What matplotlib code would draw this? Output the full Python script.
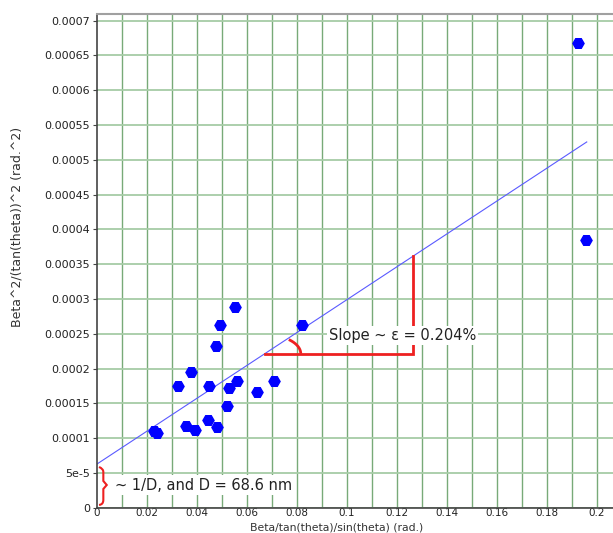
import numpy as np
import matplotlib
matplotlib.use('Agg')
import matplotlib.pyplot as plt
from matplotlib.path import Path
from matplotlib.patches import PathPatch
from matplotlib.ticker import FixedLocator, FixedFormatter

# data
x_vals = [0.0228, 0.0240, 0.0325, 0.0379, 0.0359, 0.0392, 0.0445, 0.0448,
          0.0481, 0.0479, 0.0495, 0.0552, 0.0521, 0.0528, 0.0563, 0.0641,
          0.0708, 0.0821, 0.1927, 0.1959]
y_vals = [0.0001095, 0.0001080, 0.0001747, 0.0001944, 0.0001171, 0.0001119,
          0.0001263, 0.0001747, 0.0001157, 0.0002323, 0.0002620, 0.0002885,
          0.0001459, 0.0001724, 0.0001819, 0.0001656, 0.0001815, 0.0002620,
          0.0006680, 0.0003846]

fit_intercept = 6.25e-5
fit_slope = 0.002363
fit_x = [0.0, 0.196]

# slope triangle (on the fit line)
tri_x0 = 0.0672
tri_x1 = 0.1265

x_ticks = [0, 0.02, 0.04, 0.06, 0.08, 0.1, 0.12, 0.14, 0.16, 0.18, 0.2]
x_tick_labels = ['0', '0.02', '0.04', '0.06', '0.08', '0.1', '0.12', '0.14',
                 '0.16', '0.18', '0.2']
y_ticks = [0, 5e-5, 1e-4, 1.5e-4, 2e-4, 2.5e-4, 3e-4, 3.5e-4, 4e-4, 4.5e-4,
           5e-4, 5.5e-4, 6e-4, 6.5e-4, 7e-4]
y_tick_labels = ['0', '5e-5', '0.0001', '0.00015', '0.0002', '0.00025',
                 '0.0003', '0.00035', '0.0004', '0.00045', '0.0005',
                 '0.00055', '0.0006', '0.00065', '0.0007']

slope_text = 'Slope ~ \u03b5 = 0.204%'
intercept_text = '~ 1/D, and D = 68.6 nm'

RED = '#ee2020'
XMAX = 0.2065
YMAX = 0.0007096

fig = plt.figure(figsize=(6.13, 5.33), dpi=100)
ax = fig.add_axes([0.1578, 0.0475, 0.8422, 0.9263])

ax.set_xlim(0, XMAX)
ax.set_ylim(0, YMAX)

# grid
for gx in np.arange(0.01, 0.2001, 0.01):
    ax.axvline(gx, color='#78aa78', lw=1.0, zorder=0)
for gy in y_ticks:
    ax.axhline(gy, color='#a6cca6', lw=1.3, zorder=0)

# fit line
fy = [fit_intercept + fit_slope * v for v in fit_x]
ax.plot(fit_x, fy, color='#5a5aff', lw=0.8, zorder=2)

# points
ax.plot(x_vals, y_vals, linestyle='none', marker='H', markersize=8,
        color='#0000ff', markeredgecolor='#0000ff', zorder=3)

# slope triangle
ty0 = fit_intercept + fit_slope * tri_x0
ty1 = fit_intercept + fit_slope * tri_x1
ax.plot([tri_x0, tri_x1, tri_x1], [ty0, ty0, ty1], color=RED, lw=2.0,
        solid_joinstyle='miter', zorder=4)

# angle arc (pixel sizes converted to data units)
px_x = 2500.0
px_y = 695714.0
t = np.linspace(0, np.deg2rad(48), 30)
ax.plot(tri_x0 + 36 / px_x * np.cos(t), ty0 + 19 / px_y * np.sin(t),
        color=RED, lw=2.0, zorder=4, solid_capstyle='butt')

ax.text(0.0928, 0.0002477, slope_text, fontsize=10.5, color='#222222',
        va='center', ha='left', zorder=5,
        bbox=dict(facecolor='white', edgecolor='none', pad=1.5))

# curly brace for the intercept
bx = [0.00092, 0.00264, 0.00264, 0.00264, 0.0040,
      0.00264, 0.00264, 0.00264, 0.00092]
by = [5.85e-5, 5.6e-5, 5.13e-5, 3.84e-5, 3.26e-5,
      2.69e-5, 1.11e-5, 4.5e-6, 3.9e-6]
codes = [Path.MOVETO, Path.CURVE3, Path.CURVE3, Path.LINETO, Path.LINETO,
         Path.LINETO, Path.LINETO, Path.CURVE3, Path.CURVE3]
brace = PathPatch(Path(np.column_stack([bx, by]), codes), facecolor='none',
                  edgecolor=RED, lw=1.5, zorder=5, clip_on=False)
ax.add_patch(brace)

ax.text(0.0073, 3.26e-5, intercept_text, fontsize=10.5, color='#222222',
        va='center', ha='left', zorder=5,
        bbox=dict(facecolor='white', edgecolor='none', pad=1.5))

# axes
ax.xaxis.set_major_locator(FixedLocator(x_ticks))
ax.xaxis.set_major_formatter(FixedFormatter(x_tick_labels))
ax.yaxis.set_major_locator(FixedLocator(y_ticks))
ax.yaxis.set_major_formatter(FixedFormatter(y_tick_labels))
ax.tick_params(axis='y', labelsize=8, labelcolor='#222222',
               color='#444444', length=3, width=0.8, pad=2)
ax.tick_params(axis='x', labelsize=7.5, labelcolor='#222222',
               color='#444444', length=0, pad=0.5)

for s in ['left', 'bottom']:
    ax.spines[s].set_color('#444444')
    ax.spines[s].set_linewidth(1.2)
ax.spines['top'].set_color('#a0a0a0')
ax.spines['top'].set_linewidth(1.5)
ax.spines['right'].set_visible(False)

ax.set_xlabel('Beta/tan(theta)/sin(theta) (rad.)', fontsize=7.8,
              color='#333333', va='bottom')
ax.set_ylabel('Beta^2/(tan(theta))^2 (rad.^2)', fontsize=9,
              color='#333333')
ax.xaxis.set_label_coords(0.465, -0.0506)
ax.yaxis.set_label_coords(-0.141, 0.569)

fig.savefig('out.png', dpi=100)
